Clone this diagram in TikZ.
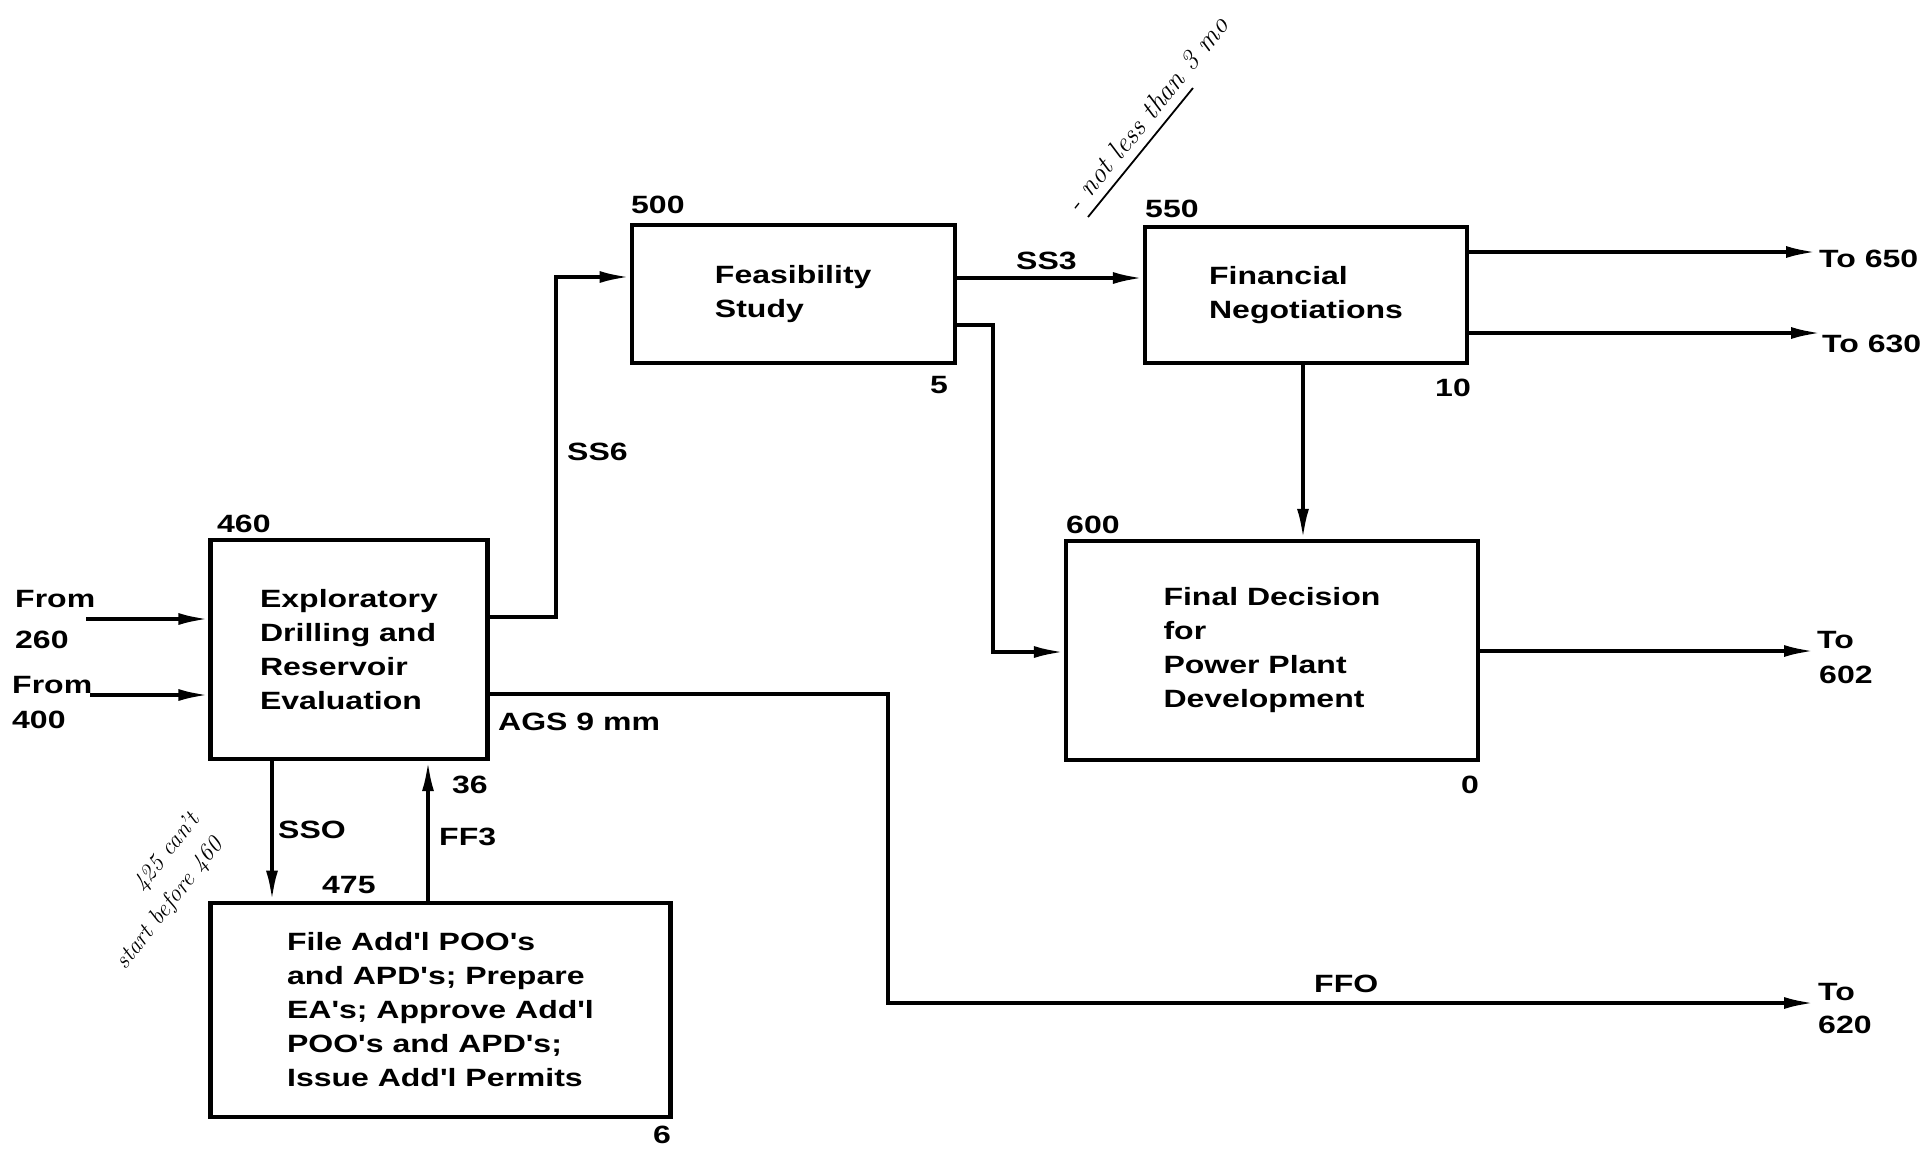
\documentclass[tikz,border=0pt]{standalone}
\usepackage{fontspec}
\newfontfamily\lbl[FakeStretch=1.28]{Liberation Sans}
\usetikzlibrary{arrows.meta}
\tikzset{
  lblfont/.style={font=\lbl\bfseries\fontsize{25}{34}\selectfont},
  procbox/.style={draw, line width=4.2pt, inner sep=0pt, align=left, lblfont},
  lab/.style={inner sep=0pt, anchor=base west, lblfont},
  conn/.style={line width=3.6pt},
  arr/.style={conn, -{Latex[length=30pt,width=12pt]}},
  hand/.style={inner sep=0pt, font=\itshape\fontsize{#1}{#1}\selectfont},
  hand/.default=24
}
\begin{document}
\begin{tikzpicture}[x=1pt,y=-1pt]
\fill[white] (0,0) rectangle (1928,1152);
\useasboundingbox (0,0) rectangle (1928,1152);

% boxes
\node[procbox, minimum width=277pt, minimum height=219pt] (b460) at (349,649.5) {Exploratory\\Drilling and\\Reservoir\\Evaluation};
\node[procbox, minimum width=460pt, minimum height=214pt] (b475) at (440.5,1009.7) {File Add'l POO's\\and APD's; Prepare\\EA's; Approve Add'l\\POO's and APD's;\\Issue Add'l Permits};
\node[procbox, minimum width=323pt, minimum height=138pt] (b500) at (793.2,293.9) {Feasibility\\Study};
\node[procbox, minimum width=322pt, minimum height=136pt] (b550) at (1306,295) {Financial\\Negotiations};
\node[procbox, minimum width=412pt, minimum height=219pt] (b600) at (1272,650.4) {Final Decision\\for\\Power Plant\\Development};

% box numbers
\node[lab] (n460) at (217,532) {460};
\node[lab] (n36) at (452,793) {36};
\node[lab] (n475) at (322,893) {475};
\node[lab] (n6) at (653,1143) {6};
\node[lab] (n500) at (631,213) {500};
\node[lab] (n5) at (930,393) {5};
\node[lab] (n550) at (1145,217) {550};
\node[lab] (n10) at (1435,396) {10};
\node[lab] (n600) at (1066,533) {600};
\node[lab] (n0) at (1461,793) {0};

% external labels
\node[lab] (fr1) at (15,607) {From};
\node[lab] (fr1n) at (15,648) {260};
\node[lab] (fr2) at (12,693) {From};
\node[lab] (fr2n) at (12,728) {400};
\node[lab] (to650) at (1819,267) {To 650};
\node[lab] (to630) at (1822,352) {To 630};
\node[lab] (to602) at (1817,648) {To};
\node[lab] (to602n) at (1819,683) {602};
\node[lab] (to620) at (1818,1000) {To};
\node[lab] (to620n) at (1818,1033) {620};

% connector labels
\node[lab] (lss6) at (567,460) {SS6};
\node[lab] (lss3) at (1016,269) {SS3};
\node[lab] (lags) at (498,730) {AGS 9 mm};
\node[lab] (lsso) at (278,838) {SSO};
\node[lab] (lff3) at (439,845) {FF3};
\node[lab] (lffo) at (1314,992) {FFO};

% helper coordinates
\coordinate (f1) at (86,619);
\coordinate (f2) at (90,695);
\coordinate (s6a) at (556,617);
\coordinate (s6b) at (556,277);
\coordinate (s3) at (0,278);
\coordinate (t650) at (1816,252);
\coordinate (t630) at (1821,333);
\coordinate (v1) at (1303,0);
\coordinate (c5a) at (993,325);
\coordinate (c5b) at (993,652);
\coordinate (t602) at (1814,651);
\coordinate (ag1) at (888,694);
\coordinate (ag2) at (888,1003);
\coordinate (t620) at (1814,1003);
\coordinate (sso) at (272,0);
\coordinate (ff3) at (428,0);

% connectors
\draw[arr] (f1) -- (f1 -| b460.west);
\draw[arr] (f2) -- (f2 -| b460.west);
\draw[arr] (b460.east |- s6a) -- (s6a) -- (s6b) -- (s6b -| b500.west);
\draw[arr] (b500.east |- s3) -- (b550.west |- s3);
\draw[arr] (b550.east |- t650) -- (t650);
\draw[arr] (b550.east |- t630) -- (t630);
\draw[arr] (b550.south -| v1) -- (b600.north -| v1);
\draw[arr] (b500.east |- c5a) -- (c5a) -- (c5b) -- (c5b -| b600.west);
\draw[arr] (b600.east |- t602) -- (t602);
\draw[arr] (b460.east |- ag1) -- (ag1) -- (ag2) -- (t620);
\draw[arr] (b460.south -| sso) -- (b475.north -| sso);
\draw[arr] (b475.north -| ff3) -- (b460.south -| ff3);

% handwritten notes
\node[hand=28, rotate=51] (h1) at (1147,114) {-\ not less than\ 3 mo};
\coordinate (u1) at (1088,217);
\coordinate (u2) at (1193,88);
\draw[line width=1.8pt] (u1) -- (u2);
\node[hand=24, rotate=52] (h2) at (167,853) {425 can't};
\node[hand=24, rotate=52] (h3) at (170,904) {start before 460};
\end{tikzpicture}
\end{document}
